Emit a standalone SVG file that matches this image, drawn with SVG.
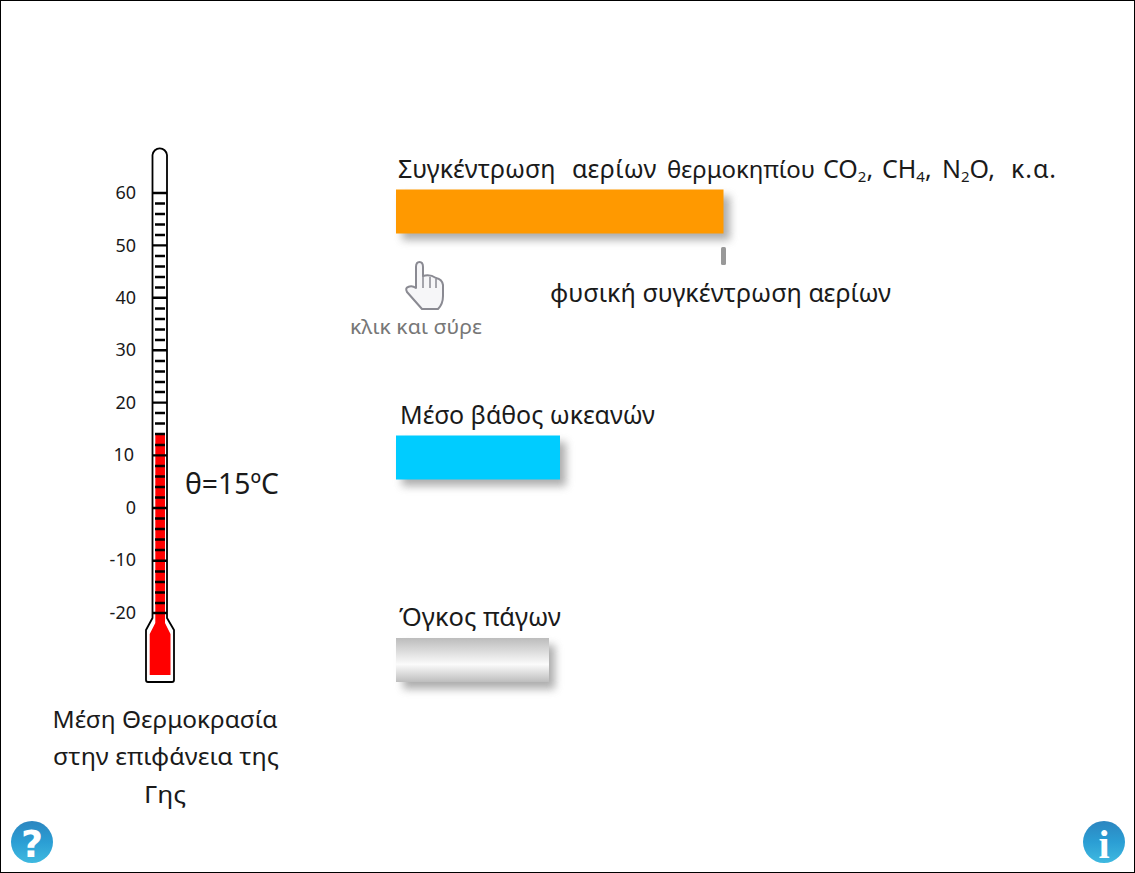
<svg xmlns="http://www.w3.org/2000/svg" width="1135" height="873" viewBox="0 0 1135 873">
<style>
text{font-family:"Noto Sans","DejaVu Sans",sans-serif;fill:#1a1a1a}
.l{font-size:25px}
.s{font-size:18px;text-anchor:end}
.c{font-size:24px;text-anchor:middle}
.sub{font-size:15px}
.maj{stroke:#000;stroke-width:2.400}
.min{stroke:#000;stroke-width:2.400}
</style>
<defs>
<filter id="sh" x="-20%" y="-40%" width="140%" height="200%"><feGaussianBlur stdDeviation="4"/></filter>
<linearGradient id="ice" x1="0" y1="0" x2="0" y2="1">
<stop offset="0" stop-color="#bcbcbc"/><stop offset=".6" stop-color="#fbfbfb"/><stop offset="1" stop-color="#bdbdbd"/>
</linearGradient>
<linearGradient id="ball" x1="0" y1="0" x2="0" y2="1">
<stop offset="0" stop-color="#2c86c0"/><stop offset=".5" stop-color="#2b9ed4"/><stop offset="1" stop-color="#3fb9e0"/>
</linearGradient>
</defs>
<rect x=".5" y=".5" width="1134" height="872" fill="#fff" stroke="#000"/>
<g id="thermometer">
<path d="M152.500 618V155a7.300 7.500 0 0 1 14.500 0V618L174 630V680Q174 682 172 682H148Q146 682 146 680V630Z" fill="#fff" stroke="#000" stroke-width="1.800" stroke-linejoin="round"/>
<path d="M155.300 433H165V623L170.500 634V675H149.700V634L155.300 623Z" fill="#f00"/>
<g id="ticks">
<path class="maj" d="M153 193H167M153 245.400H167M153 297.800H167M153 350.200H167M153 402.600H167M153 455.400H167M153 508H167M153 560.800H167M153 613H167"/>
<path class="min" d="M155 203.500H165M155 214H165M155 224.500H165M155 235H165M155 256H165M155 266.500H165M155 277H165M155 287.500H165M155 308.500H165M155 319H165M155 329.500H165M155 340H165M155 361H165M155 371.500H165M155 382H165M155 392H165M155 413H165M155 423.500H165M155 434H165M155 445H165M155 466H165M155 476.500H165M155 487H165M155 497.500H165M155 518.500H165M155 529H165M155 539.500H165M155 550H165M155 571.500H165M155 582H165M155 592.500H165M155 603H165"/>
</g>
<text class="s" x="136" y="199">60</text>
<text class="s" x="136" y="251.500">50</text>
<text class="s" x="136" y="304">40</text>
<text class="s" x="136" y="356">30</text>
<text class="s" x="136" y="408.500">20</text>
<text class="s" x="134" y="461">10</text>
<text class="s" x="136" y="513.500">0</text>
<text class="s" x="136" y="566">-10</text>
<text class="s" x="136" y="618.500">-20</text>
</g>
<g id="temp-value"><text x="185" y="494" font-size="29" textLength="94" lengthAdjust="spacingAndGlyphs">θ=15ºC</text></g>
<g id="thermo-caption">
<text class="c" x="165" y="728" textLength="225" lengthAdjust="spacingAndGlyphs">Μέση Θερμοκρασία</text>
<text class="c" x="166" y="765" textLength="226" lengthAdjust="spacingAndGlyphs">στην επιφάνεια της</text>
<text class="c" x="165" y="803" textLength="42" lengthAdjust="spacingAndGlyphs">Γης</text>
</g>
<g id="gases">
<text class="l" y="178" xml:space="preserve"><tspan x="398">Συγκέντρωση  </tspan><tspan x="572" letter-spacing=".5">αερίων </tspan><tspan x="667" font-size="24">θερμοκηπίου </tspan><tspan x="823">CO</tspan><tspan class="sub" dy="4">2</tspan><tspan dy="-4">, </tspan><tspan x="882">CH</tspan><tspan class="sub" dy="4">4</tspan><tspan dy="-4">, </tspan><tspan x="942">N</tspan><tspan class="sub" dy="4">2</tspan><tspan dy="-4">O,  </tspan><tspan x="1011" letter-spacing="1">κ.α.</tspan></text>
<rect x="402" y="196" width="328" height="44" fill="#777" opacity=".6" filter="url(#sh)"/>
<rect x="396" y="189.500" width="327.500" height="44" fill="#f90"/>
<rect x="721" y="247" width="5" height="18" rx="1.500" fill="#999"/>
<text class="l" x="550" y="302" textLength="341" lengthAdjust="spacingAndGlyphs">φυσική συγκέντρωση αερίων</text>
</g>
<g id="hand">
<path d="M416 288V267Q416 262 419.500 262Q423 262 423 267V276Q430 274 436 278Q442 279 443 285V296Q443 304 438 309H422L407 292Q405 288 408 287Q412 285 416 288Z" fill="#f6f6f8" stroke="#8a8a92" stroke-width="2" stroke-linejoin="round"/>
<path d="M423 276V288M430 277V288M436 279V288" stroke="#8a8a92" stroke-width="1.500" fill="none"/>
<text x="350" y="334" font-size="20" style="fill:#777" textLength="132" lengthAdjust="spacingAndGlyphs">κλικ και σύρε</text>
</g>
<g id="ocean">
<text class="l" x="400" y="424" textLength="255" lengthAdjust="spacingAndGlyphs">Μέσο βάθος ωκεανών</text>
<rect x="402" y="442" width="164" height="44" fill="#777" opacity=".6" filter="url(#sh)"/>
<rect x="396" y="435.500" width="164" height="44" fill="#0cf"/>
</g>
<g id="ice-group">
<text class="l" x="399" y="626" textLength="162" lengthAdjust="spacingAndGlyphs">Όγκος πάγων</text>
<rect x="403" y="645" width="152" height="44" fill="#777" opacity=".6" filter="url(#sh)"/>
<rect x="396" y="638" width="153" height="44" fill="url(#ice)"/>
</g>
<g id="help">
<circle cx="32" cy="842" r="21" fill="url(#ball)"/>
<text x="32" y="857" font-size="38" font-weight="bold" text-anchor="middle" style="font-family:'DejaVu Sans',sans-serif;fill:#fff">?</text>
</g>
<g id="info">
<circle cx="1104" cy="842" r="21" fill="url(#ball)"/>
<text x="1104" y="858" font-size="40" font-weight="bold" text-anchor="middle" style="font-family:'Liberation Serif',serif;fill:#fff">i</text>
</g>
<g id="connectors"/>
</svg>
